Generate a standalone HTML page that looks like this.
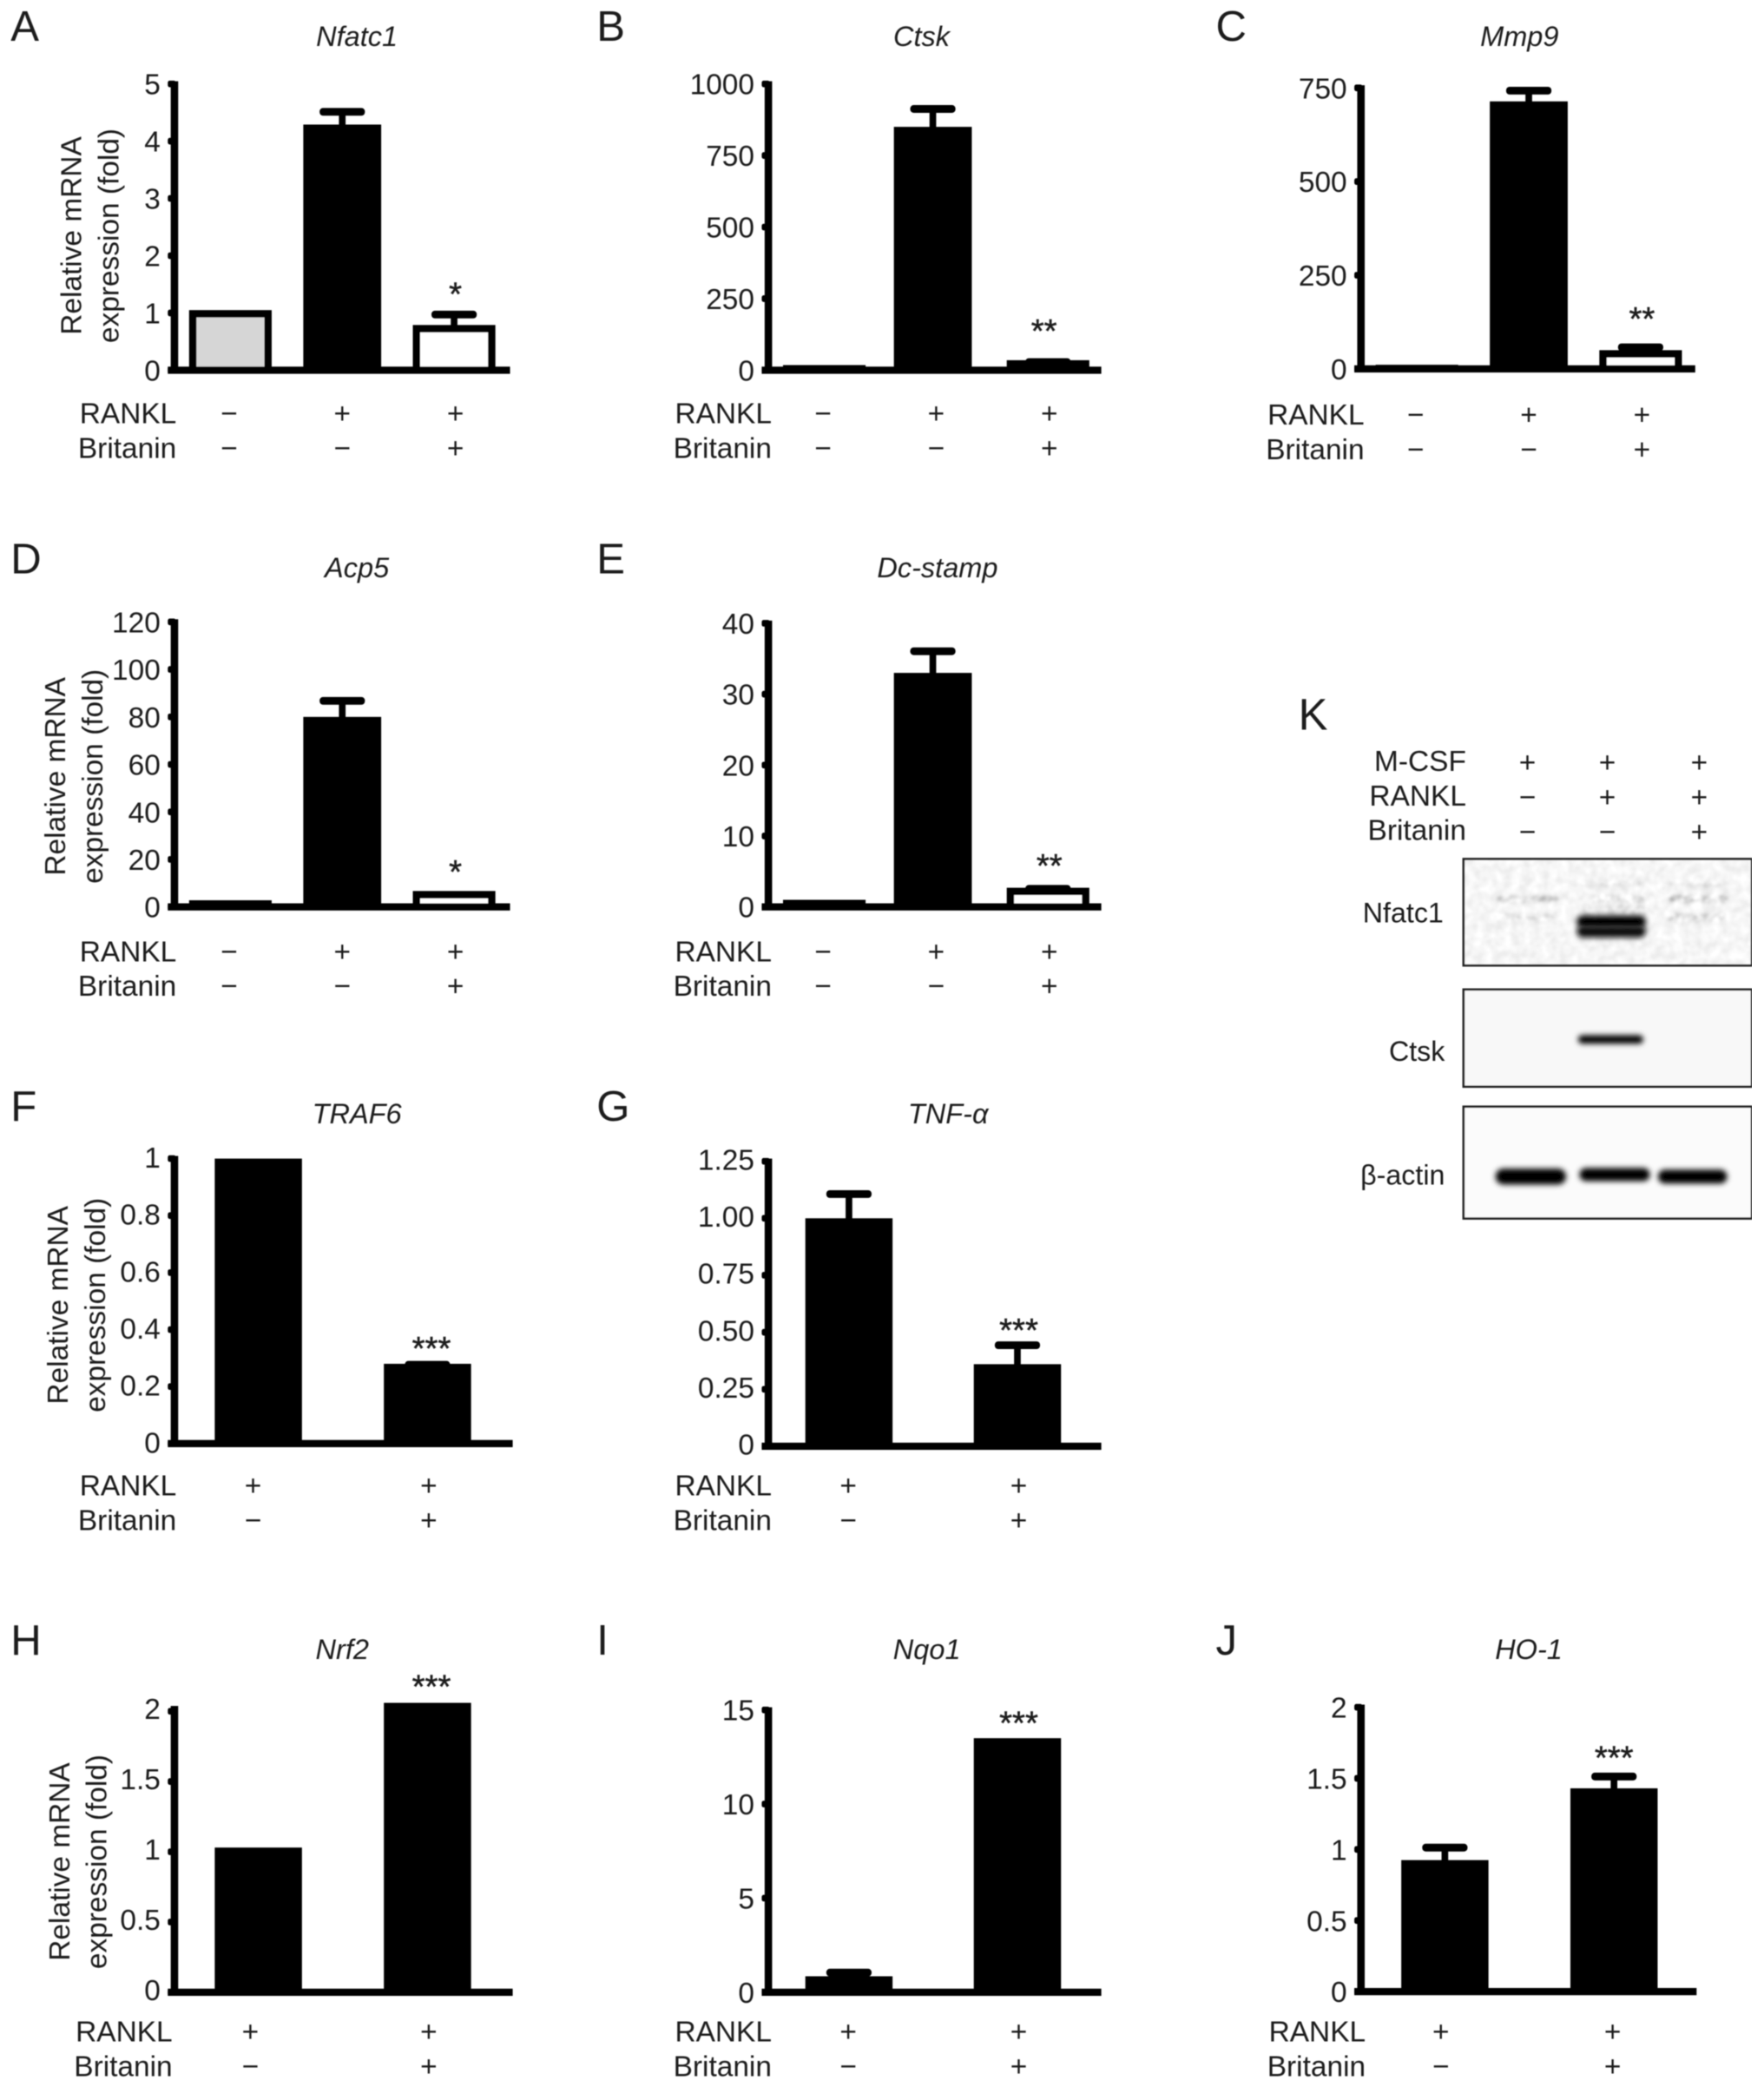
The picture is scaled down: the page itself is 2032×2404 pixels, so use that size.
<!DOCTYPE html>
<html lang="en">
<head>
<meta charset="utf-8">
<title>Britanin mRNA expression and western blot panels</title>
<style>
html,body{margin:0;padding:0;background:#fff;width:2032px;height:2404px;overflow:hidden}
svg{display:block}
text{font-family:"Liberation Sans",Arial,sans-serif;fill:#1c1c1c}
</style>
</head>
<body>
<svg id="figure" xmlns="http://www.w3.org/2000/svg" width="2032" height="2404" viewBox="0 0 1324.64 1567.13">
  <defs>
    <filter id="soft" x="0" y="0" width="100%" height="100%"><feGaussianBlur stdDeviation="0.35"/></filter>
    <filter id="band" x="-30%" y="-150%" width="160%" height="400%"><feGaussianBlur stdDeviation="2"/></filter>
    <filter id="faint" x="-30%" y="-300%" width="160%" height="700%"><feGaussianBlur stdDeviation="1.6"/></filter>
    <filter id="speckle" x="0" y="0" width="100%" height="100%" color-interpolation-filters="sRGB">
      <feTurbulence type="fractalNoise" baseFrequency="0.14" numOctaves="2" seed="4"/>
      <feColorMatrix type="matrix" values="0 0 0 0 1  0 0 0 0 1  0 0 0 0 1  1.6 0 0 0 -0.2"/>
      <feGaussianBlur stdDeviation="0.5"/>
    </filter>
  </defs>
  <g id="root" filter="url(#soft)"></g>
</svg>
<script>
// Panel A - Nfatc1
const nfatc1Values = [1.05, 4.29, 0.79];
const nfatc1Errors = [0, 0.29, 0.25];
const nfatc1Ticks = [0, 1, 2, 3, 4, 5];
const nfatc1TickLabels = ["0", "1", "2", "3", "4", "5"];
const nfatc1Stars = ["", "", "*"];
// Panel B - Ctsk
const ctskValues = [18, 850, 35];
const ctskErrors = [0, 76, 7];
const ctskTicks = [0, 250, 500, 750, 1000];
const ctskTickLabels = ["0", "250", "500", "750", "1000"];
const ctskStars = ["", "", "**"];
// Panel C - Mmp9
const mmp9Values = [11, 714, 50];
const mmp9Errors = [0, 39, 18];
const mmp9Ticks = [0, 250, 500, 750];
const mmp9TickLabels = ["0", "250", "500", "750"];
const mmp9Stars = ["", "", "**"];
// Panel D - Acp5
const acp5Values = [2.8, 80, 6.7];
const acp5Errors = [0, 8.4, 0];
const acp5Ticks = [0, 20, 40, 60, 80, 100, 120];
const acp5TickLabels = ["0", "20", "40", "60", "80", "100", "120"];
const acp5Stars = ["", "", "*"];
// Panel E - Dc-stamp
const dcstampValues = [1, 33, 2.7];
const dcstampErrors = [0, 3.6, 0.4];
const dcstampTicks = [0, 10, 20, 30, 40];
const dcstampTickLabels = ["0", "10", "20", "30", "40"];
const dcstampStars = ["", "", "**"];
// Panel F - TRAF6
const traf6Values = [1, 0.28];
const traf6Errors = [0, 0.01];
const traf6Ticks = [0, 0.2, 0.4, 0.6, 0.8, 1];
const traf6TickLabels = ["0", "0.2", "0.4", "0.6", "0.8", "1"];
const traf6Stars = ["", "***"];
// Panel G - TNF-alpha
const tnfValues = [1.0, 0.36];
const tnfErrors = [0.123, 0.1];
const tnfTicks = [0, 0.25, 0.5, 0.75, 1, 1.25];
const tnfTickLabels = ["0", "0.25", "0.50", "0.75", "1.00", "1.25"];
const tnfStars = ["", "***"];
// Panel H - Nrf2
const nrf2Values = [1.03, 2.06];
const nrf2Errors = [0, 0];
const nrf2Ticks = [0, 0.5, 1, 1.5, 2];
const nrf2TickLabels = ["0", "0.5", "1", "1.5", "2"];
const nrf2Stars = ["", "***"];
// Panel I - Nqo1
const nqo1Values = [0.85, 13.5];
const nqo1Errors = [0.4, 0];
const nqo1Ticks = [0, 5, 10, 15];
const nqo1TickLabels = ["0", "5", "10", "15"];
const nqo1Stars = ["", "***"];
// Panel J - HO-1
const ho1Values = [0.925, 1.43];
const ho1Errors = [0.115, 0.11];
const ho1Ticks = [0, 0.5, 1, 1.5, 2];
const ho1TickLabels = ["0", "0.5", "1", "1.5", "2"];
const ho1Stars = ["", "***"];
// Treatment rows
const threeRankl = ["\u2212", "+", "+"];
const threeBritanin = ["\u2212", "\u2212", "+"];
const twoRankl = ["+", "+"];
const twoBritanin = ["\u2212", "+"];

const NS = "http://www.w3.org/2000/svg";
const root = document.getElementById("root");
const LABEL_SIZE = 21.8;

function mk(tag, attrs, parent, content) {
  const el = document.createElementNS(NS, tag);
  for (const k in attrs) el.setAttribute(k, attrs[k]);
  if (content !== undefined) el.textContent = content;
  parent.appendChild(el);
  return el;
}
function label(x, yc, str, size, anchor, parent, italic) {
  const a = { x: x, y: yc + size * 0.36, "font-size": size, "text-anchor": anchor };
  if (italic) a["font-style"] = "italic";
  return mk("text", a, parent, str);
}

function drawPanel(p) {
  const g = mk("g", {}, root);
  
  
  const yScale = v => p.y0 - (v / p.max) * (p.y0 - p.yMaxPx);
  const xCenter = i => p.x + p.barFirst + i * p.barStep + (i === 1 && p.midShift ? p.midShift : 0);
  const markX = i => p.x + p.markFirst + i * p.markStep;
  const n = p.values.length;
  const labelDy = p.labelDy || 0;

  const letter = label(p.letterX, p.letterY, p.letter, 32, "start", g);
  
  
  const title = label(p.titleX, p.titleY, p.title, 21.2, "middle", g, true);
  
  

  // bars
  p.values.forEach((v, i) => {
    const cx = xCenter(i), top = yScale(v);
    const errTop = yScale(v + p.errors[i]);
    if (p.errors[i] > 0) {
      const stem = mk("rect", { x: cx - 2.5, y: errTop + 2, width: 5, height: Math.max(0, top - errTop), fill: "#000" }, g);
      
      
      const cap = mk("rect", { x: cx - 17, y: errTop, width: 34, height: 5.8, rx: 2.6, fill: "#000" }, g);
      
      
    }
    const three = n === 3;
    const outlined = three && i !== 1;
    const w = three ? (outlined ? 62 : 58.5) : 65.5;
    const bar = mk("rect", { x: cx - w / 2, y: top, width: w, height: p.y0 - top, fill: "#000" }, g);
    
    
    if (outlined && p.y0 - top > 5.5) {
      const inner = mk("rect", { x: cx - w / 2 + 5.5, y: top + 5.5, width: w - 11, height: p.y0 - top - 5.5, fill: i === 0 ? "#d6d6d6" : "#fff" }, g);
      
      
    }
    if (p.stars[i]) {
      const s = mk("text", { x: cx + p.starDx, y: errTop - p.starGap + 13, "font-size": 25, "text-anchor": "middle", stroke: "#1c1c1c", "stroke-width": 0.3 }, g, p.stars[i]);
      
      
    }
  });

  // axes
  const axisTop = p.axisTop !== undefined ? p.axisTop : p.yMaxPx - 2;
  const yAxis = mk("rect", { x: p.x - 2.8, y: axisTop, width: 5.6, height: p.y0 - axisTop + 2, fill: "#000" }, g);
  
  
  const xAxis = mk("rect", { x: p.x - 5, y: p.y0 - 2.7, width: p.right - p.x + 5, height: 5.4, fill: "#000" }, g);
  
  
  p.ticks.forEach((t, i) => {
    const y = yScale(t);
    const tick = mk("rect", { x: p.x - 5, y: y - 2.5, width: 6, height: 5, rx: 1.5, fill: "#000" }, g);
    
    
    const tl = label(p.x - 10.5, y + labelDy, p.tickLabels[i], LABEL_SIZE, "end", g);
    
    
  });

  // y-axis title
  if (p.ytX) {
    const l1 = mk("text", { transform: "translate(" + p.ytX + "," + p.ytY + ") rotate(-90)", "font-size": LABEL_SIZE, "text-anchor": "middle" }, g, "Relative mRNA");
    
    
    const l2 = mk("text", { transform: "translate(" + (p.ytX + 28) + "," + p.ytY + ") rotate(-90)", "font-size": LABEL_SIZE, "text-anchor": "middle" }, g, "expression (fold)");
    
    
  }

  // treatment rows
  const r = label(p.rowRight, p.rowY, "RANKL", LABEL_SIZE, "end", g);
  
  
  const b = label(p.rowRight, p.rowY + 26, "Britanin", LABEL_SIZE, "end", g);
  
  
  p.rankl.forEach((m, i) => {
    const t = label(markX(i), p.rowY, m, LABEL_SIZE, "middle", g);
    
    
  });
  p.britanin.forEach((m, i) => {
    const t = label(markX(i), p.rowY + 26, m, LABEL_SIZE, "middle", g);
    
    
  });
}

const bar3 = { barFirst: 42, barStep: 84, markFirst: 41, markStep: 85 };
const bar2 = { barFirst: 63, barStep: 127 };

drawPanel(Object.assign({}, bar3, { id: "a", letter: "A", letterX: 8, letterY: 19, title: "Nfatc1", titleX: 268, titleY: 27, x: 131, y0: 278, yMaxPx: 63, max: 5, right: 383, values: nfatc1Values, errors: nfatc1Errors, ticks: nfatc1Ticks, tickLabels: nfatc1TickLabels, stars: nfatc1Stars, starDx: 1, starGap: 17, ytX: 61, ytY: 177, rowRight: 132.5, rowY: 310, rankl: threeRankl, britanin: threeBritanin }));
drawPanel(Object.assign({}, bar3, { id: "b", letter: "B", letterX: 448, letterY: 19, title: "Ctsk", titleX: 692, titleY: 27, x: 577, y0: 278, yMaxPx: 63, max: 1000, right: 827, midShift: -2.5, values: ctskValues, errors: ctskErrors, ticks: ctskTicks, tickLabels: ctskTickLabels, stars: ctskStars, starDx: -3, starGap: 25, rowRight: 579.5, rowY: 310, rankl: threeRankl, britanin: threeBritanin }));
drawPanel(Object.assign({}, bar3, { id: "c", letter: "C", letterX: 913, letterY: 19, title: "Mmp9", titleX: 1141, titleY: 27, x: 1022, y0: 277, yMaxPx: 66, max: 750, right: 1273, values: mmp9Values, errors: mmp9Errors, ticks: mmp9Ticks, tickLabels: mmp9TickLabels, stars: mmp9Stars, starDx: 1, starGap: 23, rowRight: 1024.5, rowY: 311, rankl: threeRankl, britanin: threeBritanin }));
drawPanel(Object.assign({}, bar3, { id: "d", letter: "D", letterX: 8, letterY: 419, title: "Acp5", titleX: 268, titleY: 426, x: 131, y0: 681, yMaxPx: 467, max: 120, right: 383, values: acp5Values, errors: acp5Errors, ticks: acp5Ticks, tickLabels: acp5TickLabels, stars: acp5Stars, starDx: 1, starGap: 19, ytX: 49, ytY: 583, rowRight: 132.5, rowY: 714, rankl: threeRankl, britanin: threeBritanin }));
drawPanel(Object.assign({}, bar3, { id: "e", letter: "E", letterX: 448, letterY: 419, title: "Dc-stamp", titleX: 704, titleY: 426, x: 577, y0: 681, yMaxPx: 468, max: 40, right: 827, midShift: -2.5, values: dcstampValues, errors: dcstampErrors, ticks: dcstampTicks, tickLabels: dcstampTickLabels, stars: dcstampStars, starDx: 1, starGap: 19, rowRight: 579.5, rowY: 714, rankl: threeRankl, britanin: threeBritanin }));
drawPanel(Object.assign({}, bar2, { id: "f", letter: "F", letterX: 8, letterY: 830, title: "TRAF6", titleX: 268, titleY: 836, x: 131, y0: 1084, yMaxPx: 870, max: 1, right: 385, values: traf6Values, errors: traf6Errors, ticks: traf6Ticks, tickLabels: traf6TickLabels, stars: traf6Stars, starDx: 3, starGap: 14, labelDy: -1, ytX: 51, ytY: 980, rowRight: 132.5, rowY: 1115, markFirst: 59, markStep: 132, rankl: twoRankl, britanin: twoBritanin }));
drawPanel(Object.assign({}, bar2, { id: "g", letter: "G", letterX: 448, letterY: 830, title: "TNF-\u03B1", titleX: 712, titleY: 836, x: 577, y0: 1086, yMaxPx: 872, max: 1.25, right: 827, barFirst: 60.5, barStep: 126.5, values: tnfValues, errors: tnfErrors, ticks: tnfTicks, tickLabels: tnfTickLabels, stars: tnfStars, starDx: 1, starGap: 13, labelDy: -1.5, rowRight: 579.5, rowY: 1115, markFirst: 60, markStep: 128, rankl: twoRankl, britanin: twoBritanin }));
drawPanel(Object.assign({}, bar2, { id: "h", letter: "H", letterX: 8, letterY: 1231, title: "Nrf2", titleX: 257, titleY: 1238, x: 131, y0: 1496, yMaxPx: 1285, axisTop: 1281, max: 2, right: 385, values: nrf2Values, errors: nrf2Errors, ticks: nrf2Ticks, tickLabels: nrf2TickLabels, stars: nrf2Stars, starDx: 3, starGap: 17, labelDy: -2, ytX: 52, ytY: 1398, rowRight: 129.5, rowY: 1525, markFirst: 57, markStep: 134, rankl: twoRankl, britanin: twoBritanin }));
drawPanel(Object.assign({}, bar2, { id: "i", letter: "I", letterX: 448, letterY: 1231, title: "Nqo1", titleX: 696, titleY: 1238, x: 577, y0: 1496, yMaxPx: 1284, max: 15, right: 827, barFirst: 60.5, barStep: 126.5, values: nqo1Values, errors: nqo1Errors, ticks: nqo1Ticks, tickLabels: nqo1TickLabels, stars: nqo1Stars, starDx: 1, starGap: 16, rowRight: 579.5, rowY: 1525, markFirst: 60, markStep: 128, rankl: twoRankl, britanin: twoBritanin }));
drawPanel(Object.assign({}, bar2, { id: "j", letter: "J", letterX: 913, letterY: 1231, title: "HO-1", titleX: 1148, titleY: 1238, x: 1022, y0: 1495.5, yMaxPx: 1282, max: 2, right: 1274, values: ho1Values, errors: ho1Errors, ticks: ho1Ticks, tickLabels: ho1TickLabels, stars: ho1Stars, starDx: 0, starGap: 16, rowRight: 1025.5, rowY: 1525, markFirst: 60, markStep: 129, rankl: twoRankl, britanin: twoBritanin }));

// Panel K - western blot
const blotRowLabels = ["M-CSF", "RANKL", "Britanin"];
const blotMarks = [["+", "+", "+"], ["\u2212", "+", "+"], ["\u2212", "\u2212", "+"]];
const gk = mk("g", {}, root);


const kLetter = label(975, 536, "K", 33, "start", gk);


blotRowLabels.forEach((name, r) => {
  const yc = 571 + r * 26;
  const t = label(1101, yc, name, LABEL_SIZE, "end", gk);
  
  
  blotMarks[r].forEach((m, c) => {
    const mark = label(1147 + [0, 60, 129][c], yc + 1, m, LABEL_SIZE, "middle", gk);
    
    
  });
});
function blotFill(y, h, bg, nameStr) {
  const box = mk("rect", { x: 1099, y: y, width: 216.5, height: h, fill: bg }, gk);
  
  
}
function blotFrame(y, h, nameStr) {
  const box = mk("rect", { x: 1099, y: y, width: 216.5, height: h, fill: "none", stroke: "#222", "stroke-width": 1.7 }, gk);
  
  
}
function band(x, y, w, h, color, filter, op) {
  const e = mk("rect", { x: x, y: y - h / 2, width: w, height: h, rx: h / 2, fill: color, filter: "url(#" + filter + ")", opacity: op }, gk);
  
  
}
// Nfatc1 membrane
blotFill(645, 80, "#e9e9e9", "nfatc1-blot");
band(1124, 675, 46, 5, "#888", "faint", 0.55);
band(1124, 689, 46, 5, "#999", "faint", 0.5);
band(1188, 664, 46, 4, "#aaa", "faint", 0.45);
band(1195, 675, 40, 5, "#888", "faint", 0.5);
band(1188, 684, 50, 8, "#aaa", "faint", 0.5);
band(1253, 664, 44, 4, "#aaa", "faint", 0.45);
band(1253, 675, 44, 5, "#777", "faint", 0.6);
band(1253, 689, 44, 6, "#888", "faint", 0.55);
const noise = mk("rect", { x: 1099, y: 645, width: 216.5, height: 80, filter: "url(#speckle)" }, gk);


band(1184, 692, 52, 9, "#000", "band", 1);
band(1184, 699.5, 52, 9, "#111", "band", 1);
blotFrame(645, 80, "nfatc1-blot-frame");
// Ctsk membrane
blotFill(743, 73, "#f8f8f8", "ctsk-blot");
band(1185, 780.5, 49, 6.5, "#000", "band", 1);
blotFrame(743, 73, "ctsk-blot-frame");
// beta-actin membrane
blotFill(831, 84, "#fbfbfb", "beta-actin-blot");
band(1123, 883.5, 53, 12, "#000", "band", 1);
band(1186, 882, 53, 10, "#000", "band", 1);
band(1245, 883.5, 52, 10.5, "#000", "band", 1);
blotFrame(831, 84, "beta-actin-blot-frame");

const nL = label(1084, 685, "Nfatc1", 21, "end", gk);


const cL = label(1085, 789, "Ctsk", 21, "end", gk);


const aL = label(1085, 882, "\u03B2-actin", 21, "end", gk);


</script>
</body>
</html>
